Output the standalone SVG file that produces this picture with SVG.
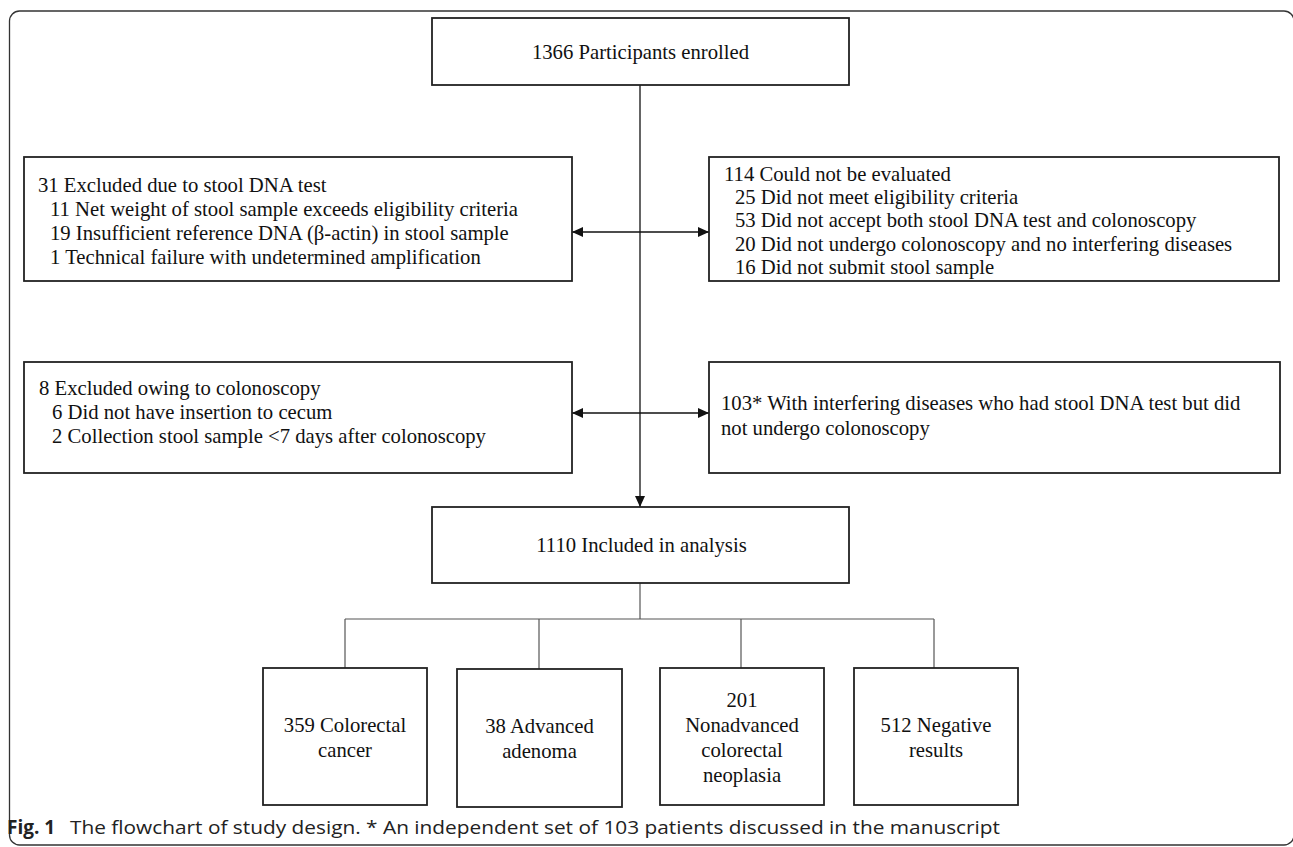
<svg xmlns="http://www.w3.org/2000/svg" width="1293" height="847" viewBox="0 0 1293 847">
<defs>
<marker id="ah" markerUnits="userSpaceOnUse" markerWidth="11" markerHeight="10" refX="11" refY="5" orient="auto-start-reverse">
<path d="M0,0 L11,5 L0,10 z" fill="#111"/>
</marker>
<style>
.box{fill:#fff;stroke:#222;stroke-width:1.8}
.t{font-family:"Liberation Serif","Times New Roman",serif;font-size:20.7px;fill:#111}
.c{text-anchor:middle}
.ln{stroke:#555;stroke-width:1.2;fill:none}
.ar{stroke:#111;stroke-width:1.3;fill:none}
.cap{font-family:"Open Sans","Liberation Sans",sans-serif;font-size:19px;fill:#222}
</style>
</defs>
<rect x="9.5" y="11" width="1284.5" height="834" rx="10" fill="none" stroke="#333" stroke-width="1.3"/>
<g id="connectors">
<line class="ar" x1="640" y1="85" x2="640" y2="507" marker-end="url(#ah)"/>
<line class="ar" x1="572" y1="232" x2="709" y2="232" marker-start="url(#ah)" marker-end="url(#ah)"/>
<line class="ar" x1="572" y1="413" x2="709" y2="413" marker-start="url(#ah)" marker-end="url(#ah)"/>
<line class="ln" x1="640" y1="583" x2="640" y2="619"/>
<line class="ln" x1="345" y1="619" x2="934" y2="619"/>
<line class="ln" x1="345" y1="619" x2="345" y2="668"/>
<line class="ln" x1="539" y1="619" x2="539" y2="669"/>
<line class="ln" x1="741" y1="619" x2="741" y2="668"/>
<line class="ln" x1="934" y1="619" x2="934" y2="668"/>
</g>
<g id="enrolled">
<rect class="box" x="432" y="18" width="417" height="67"/>
<text class="t c" x="640.5" y="59">1366 Participants enrolled</text>
</g>
<g id="excluded-stool">
<rect class="box" x="24" y="157" width="548" height="124"/>
<text class="t" x="38" y="192">31 Excluded due to stool DNA test</text>
<text class="t" x="50" y="216">11 Net weight of stool sample exceeds eligibility criteria</text>
<text class="t" x="50" y="240">19 Insufficient reference DNA (β-actin) in stool sample</text>
<text class="t" x="50" y="264">1 Technical failure with undetermined amplification</text>
</g>
<g id="not-evaluated">
<rect class="box" x="709" y="157" width="570" height="124"/>
<text class="t" x="724" y="181">114 Could not be evaluated</text>
<text class="t" x="735" y="204">25 Did not meet eligibility criteria</text>
<text class="t" x="735" y="227">53 Did not accept both stool DNA test and colonoscopy</text>
<text class="t" x="735" y="251">20 Did not undergo colonoscopy and no interfering diseases</text>
<text class="t" x="735" y="274">16 Did not submit stool sample</text>
</g>
<g id="excluded-colonoscopy">
<rect class="box" x="24" y="362" width="548" height="111"/>
<text class="t" x="39" y="395">8 Excluded owing to colonoscopy</text>
<text class="t" x="52" y="419">6 Did not have insertion to cecum</text>
<text class="t" x="52" y="443">2 Collection stool sample &lt;7 days after colonoscopy</text>
</g>
<g id="interfering">
<rect class="box" x="709" y="362" width="571" height="111"/>
<text class="t" x="721" y="410">103* With interfering diseases who had stool DNA test but did</text>
<text class="t" x="721" y="435">not undergo colonoscopy</text>
</g>
<g id="included">
<rect class="box" x="432" y="507" width="417" height="76"/>
<text class="t c" x="641.5" y="552">1110 Included in analysis</text>
</g>
<g id="crc">
<rect class="box" x="263" y="668" width="164" height="137"/>
<text class="t c" x="345" y="732">359 Colorectal</text>
<text class="t c" x="345" y="757">cancer</text>
</g>
<g id="aa">
<rect class="box" x="457" y="669" width="165" height="138"/>
<text class="t c" x="539.5" y="733">38 Advanced</text>
<text class="t c" x="539.5" y="758">adenoma</text>
</g>
<g id="nacn">
<rect class="box" x="660" y="668" width="164" height="137"/>
<text class="t c" x="742" y="707">201</text>
<text class="t c" x="742" y="732">Nonadvanced</text>
<text class="t c" x="742" y="757">colorectal</text>
<text class="t c" x="742" y="782">neoplasia</text>
</g>
<g id="negative">
<rect class="box" x="854" y="668" width="164" height="137"/>
<text class="t c" x="936" y="732">512 Negative</text>
<text class="t c" x="936" y="757">results</text>
</g>
<g id="caption">
<text class="cap" x="7" y="834" font-weight="bold">Fig. 1</text>
<text class="cap" x="70" y="834" textLength="930" lengthAdjust="spacingAndGlyphs">The flowchart of study design. * An independent set of 103 patients discussed in the manuscript</text>
</g>
</svg>
